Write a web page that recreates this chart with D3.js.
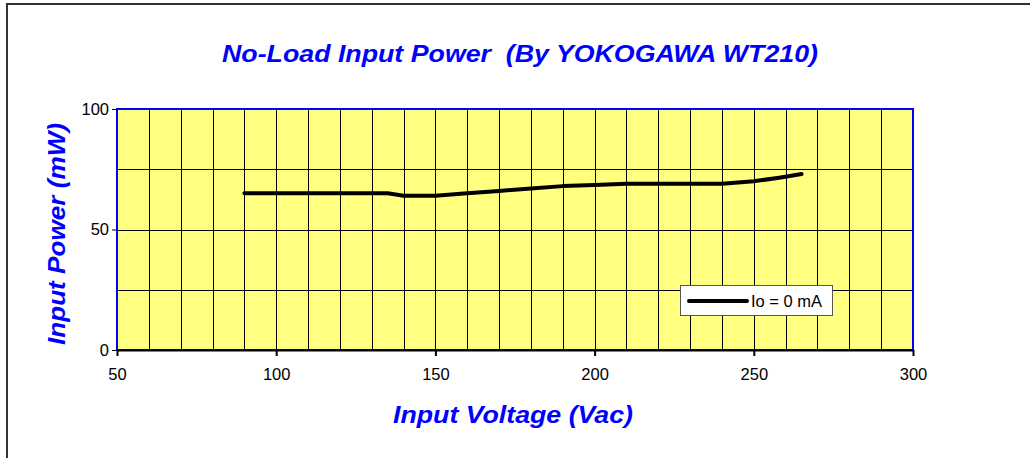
<!DOCTYPE html>
<html>
<head>
<meta charset="utf-8">
<script src="https://cdn.jsdelivr.net/npm/d3@7"></script>
<style>
  body { margin: 0; background: #fff; }
  svg { display: block; font-family: Arial, "Liberation Sans", sans-serif; }
</style>
</head>
<body>
<div id="chart"></div>
<script>
// input voltage (Vac) vs no-load input power (mW)
const voltages = [90, 135, 140, 150, 160, 170, 180, 190, 200, 210, 220, 230, 240, 250, 258, 265];
const power_mw = [65, 65, 64, 64, 65, 66, 67, 68, 68.5, 69, 69, 69, 69, 70, 71.5, 73];
const series_name = "Io = 0 mA";
const x_ticks = [50, 100, 150, 200, 250, 300];
const y_ticks = [0, 50, 100];
const x_grid = d3.range(50, 301, 10);
const y_grid = [25, 50, 75];

let graph_config = {
  width: 1030,
  height: 458,
  margin: { left: 117, right: 117, top: 109, bottom: 108 }
};
let { width, height, margin } = graph_config;
let plot_w = width - margin.left - margin.right;
let plot_h = height - margin.top - margin.bottom;
const font = "Arial, 'Liberation Sans', sans-serif";

let svg = d3.select("#chart").append("svg")
  .attr("width", width)
  .attr("height", height);

// outer chart frame (only top/left visible in the shot)
svg.append("path")
  .attr("d", "M7,460 L7,4 L1032,4")
  .attr("fill", "none")
  .attr("stroke", "#333")
  .attr("stroke-width", 2);

let g = svg.append("g")
  .attr("transform", "translate(" + margin.left + "," + margin.top + ")");

let x_scale = d3.scaleLinear().domain([50, 300]).range([0, plot_w]);
let y_scale = d3.scaleLinear().domain([0, 100]).range([plot_h, 0]);

g.append("rect")
  .attr("width", plot_w)
  .attr("height", plot_h)
  .attr("fill", "#ffff80");

// grid
g.selectAll(".vgrid")
  .data(x_grid.filter(v => v > 50 && v < 300))
  .enter().append("line")
  .attr("class", "vgrid")
  .attr("x1", d => Math.round(x_scale(d)) + 0.5)
  .attr("x2", d => Math.round(x_scale(d)) + 0.5)
  .attr("y1", 0).attr("y2", plot_h)
  .attr("stroke", "#000").attr("stroke-width", 1);

g.selectAll(".hgrid")
  .data(y_grid)
  .enter().append("line")
  .attr("class", "hgrid")
  .attr("y1", d => Math.round(y_scale(d)) + 0.5)
  .attr("y2", d => Math.round(y_scale(d)) + 0.5)
  .attr("x1", 0).attr("x2", plot_w)
  .attr("stroke", "#000").attr("stroke-width", 1);

// plot border (blue)
g.append("rect")
  .attr("width", plot_w)
  .attr("height", plot_h)
  .attr("fill", "none")
  .attr("stroke", "#0000ff")
  .attr("stroke-width", 2);

// axes
let x_axis = g.append("g")
  .attr("transform", "translate(0," + plot_h + ")")
  .call(d3.axisBottom(x_scale).tickValues(x_ticks).tickSize(6).tickPadding(12).tickSizeOuter(0))
  .attr("font-family", font).attr("font-size", 16.5);
x_axis.select(".domain").attr("stroke", "#000").attr("stroke-width", 2);
x_axis.selectAll(".tick line").attr("stroke", "#000").attr("stroke-width", 2);
x_axis.selectAll("text").attr("fill", "#000");

let y_axis = g.append("g")
  .call(d3.axisLeft(y_scale).tickValues(y_ticks).tickSize(5).tickPadding(3).tickSizeOuter(0))
  .attr("font-family", font).attr("font-size", 16.5);
y_axis.select(".domain").remove();
y_axis.selectAll(".tick line").attr("stroke", "#000").attr("stroke-width", 1);
y_axis.selectAll("text").attr("fill", "#000");

// data line
let line = d3.line()
  .x((d, i) => x_scale(voltages[i]))
  .y(d => y_scale(d));
g.append("path")
  .datum(power_mw)
  .attr("d", line)
  .attr("fill", "none")
  .attr("stroke", "#000")
  .attr("stroke-width", 4)
  .attr("stroke-linecap", "round")
  .attr("stroke-linejoin", "round");

// legend
let legend = svg.append("g").attr("transform", "translate(680,285)");
legend.append("rect")
  .attr("x", 0.5).attr("y", 0.5)
  .attr("width", 152).attr("height", 30)
  .attr("fill", "#fff")
  .attr("stroke", "#555");
legend.append("line")
  .attr("x1", 9).attr("x2", 67)
  .attr("y1", 16).attr("y2", 16)
  .attr("stroke", "#000").attr("stroke-width", 4)
  .attr("stroke-linecap", "round");
legend.append("text")
  .attr("x", 71).attr("y", 22)
  .attr("font-size", 16.5)
  .text(series_name);

// titles
svg.append("text")
  .attr("x", 520).attr("y", 62)
  .attr("text-anchor", "middle")
  .attr("font-size", 23)
  .attr("font-weight", "bold")
  .attr("font-style", "italic")
  .attr("fill", "#0000ff")
  .attr("textLength", 596)
  .attr("lengthAdjust", "spacingAndGlyphs")
  .style("white-space", "pre")
  .text("No-Load Input Power  (By YOKOGAWA WT210)");

svg.append("text")
  .attr("x", 513).attr("y", 423)
  .attr("text-anchor", "middle")
  .attr("font-size", 23)
  .attr("font-weight", "bold")
  .attr("font-style", "italic")
  .attr("fill", "#0000ff")
  .attr("textLength", 240)
  .attr("lengthAdjust", "spacingAndGlyphs")
  .text("Input Voltage (Vac)");

svg.append("text")
  .attr("transform", "translate(65,234) rotate(-90)")
  .attr("text-anchor", "middle")
  .attr("font-size", 23)
  .attr("font-weight", "bold")
  .attr("font-style", "italic")
  .attr("fill", "#0000ff")
  .attr("textLength", 222)
  .attr("lengthAdjust", "spacingAndGlyphs")
  .text("Input Power (mW)");
</script>
</body>
</html>
